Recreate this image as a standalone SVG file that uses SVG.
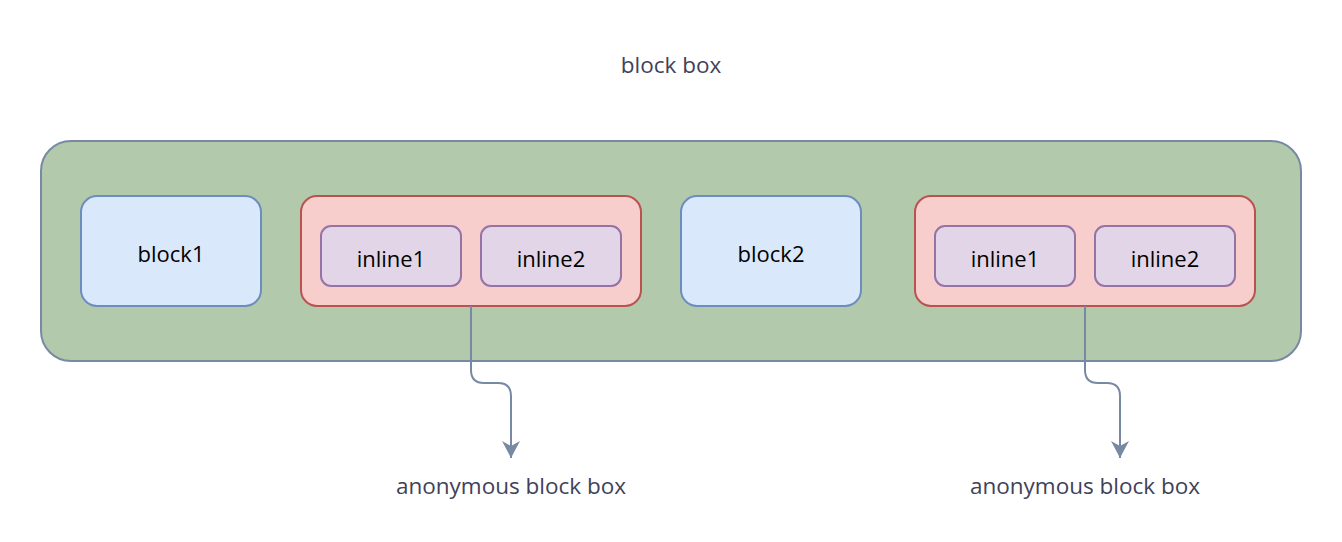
<svg xmlns="http://www.w3.org/2000/svg" width="1342" height="542" viewBox="0 0 1342 542">
<defs>
<style>
text{font-family:"Open Sans","Liberation Sans",sans-serif;font-size:22.5px;text-anchor:middle;dominant-baseline:central}
.lbl{fill:#3f4259}
.nt{fill:#000;font-size:22px}
.outer{fill:#b2c9ab;stroke:#788aa3;stroke-width:2}
.blk{fill:#dae8fc;stroke:#6c8ebf;stroke-width:2}
.anon{fill:#f8cecc;stroke:#b85450;stroke-width:2}
.inl{fill:#e1d5e7;stroke:#9673a6;stroke-width:2}
.conn{fill:none;stroke:#788aa3;stroke-width:2}
</style>
<marker id="arrow" viewBox="0 0 18 20" refX="17" refY="10" markerWidth="18" markerHeight="20" markerUnits="userSpaceOnUse" orient="auto">
<path d="M0,1 L17,10 L0,19 L5,10 Z" fill="#788aa3"/>
</marker>
</defs>
<text class="lbl" x="671" y="64">block box</text>
<g id="outer"><rect class="outer" x="41" y="141" width="1260" height="220" rx="30"/></g>
<g id="block1"><rect class="blk" x="81" y="196" width="180" height="110" rx="16"/><text class="nt" x="171" y="253">block1</text></g>
<g id="anon1"><rect class="anon" x="301" y="196" width="340" height="110" rx="16"/></g>
<g id="inline1a"><rect class="inl" x="321" y="226" width="140" height="60" rx="10"/><text class="nt" x="391" y="258">inline1</text></g>
<g id="inline2a"><rect class="inl" x="481" y="226" width="140" height="60" rx="10"/><text class="nt" x="551" y="258">inline2</text></g>
<g id="block2"><rect class="blk" x="681" y="196" width="180" height="110" rx="16"/><text class="nt" x="771" y="253">block2</text></g>
<g id="anon2"><rect class="anon" x="915" y="196" width="340" height="110" rx="16"/></g>
<g id="inline1b"><rect class="inl" x="935" y="226" width="140" height="60" rx="10"/><text class="nt" x="1005" y="258">inline1</text></g>
<g id="inline2b"><rect class="inl" x="1095" y="226" width="140" height="60" rx="10"/><text class="nt" x="1165" y="258">inline2</text></g>
<g id="connectors">
<path class="conn" d="M471,306 L471,370 Q471,383 484,383 L498,383 Q511,383 511,396 L511,458" marker-end="url(#arrow)"/>
<path class="conn" d="M1085,306 L1085,370 Q1085,383 1098,383 L1107,383 Q1120,383 1120,396 L1120,458" marker-end="url(#arrow)"/>
</g>
<g id="label1"><text class="lbl" x="511" y="485">anonymous block box</text></g>
<g id="label2"><text class="lbl" x="1085" y="485">anonymous block box</text></g>
</svg>
